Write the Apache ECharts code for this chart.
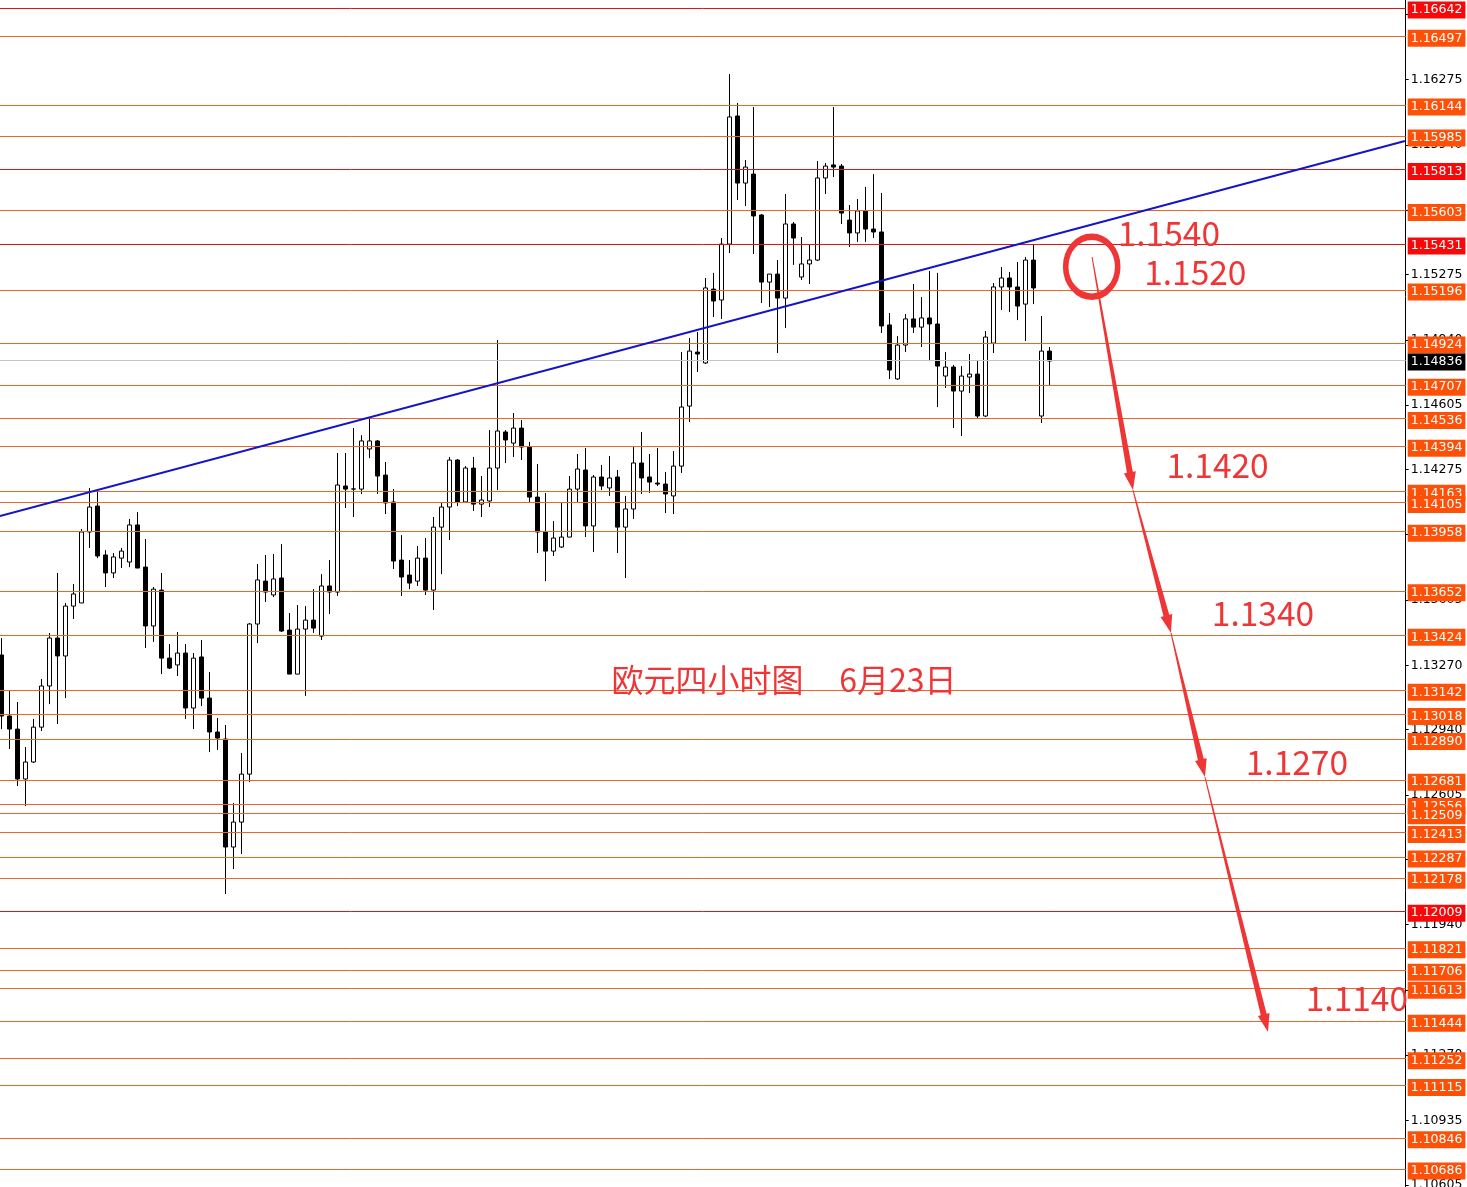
<!DOCTYPE html>
<html><head><meta charset="utf-8">
<script src="https://cdn.jsdelivr.net/npm/echarts@6/dist/echarts.min.js"></script>
<style>html,body{margin:0;padding:0;background:#fff;overflow:hidden;}#c{width:1467px;height:1187px;}</style>
</head><body><div id="c"></div>
<script>
// ---- data ----
// candles: [open, close, low, high]  (EURUSD H4)
const candles = [
[1.13323,1.13010,1.12943,1.13410],[1.13010,1.12943,1.12841,1.13138],[1.12943,1.12687,1.12651,1.13082],[1.12687,1.12774,1.12548,1.12851],
[1.12774,1.12953,1.12769,1.12995],[1.12953,1.13164,1.12933,1.13200],[1.13164,1.13410,1.13071,1.13436],[1.13410,1.13318,1.12969,1.13744],
[1.13318,1.13574,1.13102,1.13590],[1.13574,1.13636,1.13508,1.13687],[1.13590,1.13954,1.13590,1.13969],[1.13954,1.14082,1.13872,1.14180],
[1.14087,1.13831,1.13820,1.14169],[1.13836,1.13744,1.13672,1.13861],[1.13744,1.13826,1.13718,1.13846],[1.13820,1.13856,1.13769,1.13872],
[1.13800,1.13990,1.13774,1.14021],[1.13990,1.13769,1.13769,1.14056],[1.13774,1.13472,1.13359,1.13918],[1.13472,1.13661,1.13390,1.13672],
[1.13656,1.13307,1.13225,1.13744],[1.13307,1.13256,1.13251,1.13379],[1.13272,1.13333,1.13215,1.13441],[1.13333,1.13051,1.12995,1.13379],
[1.13051,1.13307,1.12943,1.13333],[1.13313,1.13102,1.13061,1.13400],[1.13102,1.12928,1.12825,1.13236],[1.12928,1.12897,1.12836,1.13000],
[1.12892,1.12338,1.12097,1.12964],[1.12338,1.12466,1.12225,1.12564],[1.12466,1.12712,1.12302,1.12820],[1.12712,1.13482,1.12671,1.13487],
[1.13482,1.13708,1.13384,1.13790],[1.13702,1.13646,1.13595,1.13836],[1.13631,1.13713,1.13620,1.13841],[1.13718,1.13446,1.13441,1.13892],
[1.13451,1.13225,1.13225,1.13538],[1.13225,1.13456,1.13225,1.13579],[1.13456,1.13502,1.13113,1.13574],[1.13502,1.13461,1.13436,1.13661],
[1.13420,1.13677,1.13400,1.13738],[1.13677,1.13646,1.13533,1.13810],[1.13646,1.14195,1.13626,1.14359],[1.14190,1.14174,1.14077,1.14359],
[1.14174,1.14175,1.14031,1.14487],[1.14174,1.14421,1.14149,1.14451],[1.14380,1.14421,1.14333,1.14544],[1.14421,1.14241,1.14149,1.14426],
[1.14246,1.14103,1.14046,1.14313],[1.14108,1.13805,1.13764,1.14174],[1.13810,1.13723,1.13626,1.13938],[1.13733,1.13692,1.13661,1.13810],
[1.13702,1.13820,1.13677,1.13882],[1.13820,1.13656,1.13631,1.13923],[1.13656,1.13979,1.13554,1.14031],[1.13979,1.14082,1.13738,1.14103],
[1.14082,1.14323,1.13913,1.14339],[1.14323,1.14108,1.14087,1.14328],[1.14108,1.14282,1.14103,1.14292],[1.14282,1.14097,1.14062,1.14339],
[1.14097,1.14118,1.14031,1.14241],[1.14113,1.14282,1.14082,1.14477],[1.14282,1.14472,1.14169,1.14939],[1.14467,1.14426,1.14308,1.14477],
[1.14410,1.14487,1.14339,1.14564],[1.14487,1.14390,1.14323,1.14528],[1.14390,1.14133,1.14103,1.14416],[1.14133,1.13954,1.13846,1.14303],
[1.13954,1.13856,1.13702,1.14154],[1.13856,1.13923,1.13831,1.14010],[1.13877,1.13928,1.13872,1.14103],[1.13928,1.14174,1.13928,1.14241],
[1.14174,1.14277,1.14108,1.14354],[1.14272,1.13985,1.13928,1.14385],[1.13985,1.14236,1.13851,1.14246],[1.14236,1.14190,1.14169,1.14298],
[1.14180,1.14231,1.14139,1.14344],[1.14236,1.13979,1.13846,1.14272],[1.13979,1.14072,1.13718,1.14139],[1.14072,1.14308,1.14021,1.14395],
[1.14308,1.14231,1.14149,1.14467],[1.14236,1.14210,1.14154,1.14354],[1.14205,1.14200,1.14190,1.14385],[1.14200,1.14149,1.14051,1.14262],
[1.14139,1.14292,1.14046,1.14369],[1.14292,1.14595,1.14257,1.14877],[1.14600,1.14882,1.14518,1.14949],[1.14877,1.14867,1.14775,1.14980],
[1.14821,1.15206,1.14816,1.15257],[1.15200,1.15139,1.15057,1.15283],[1.15144,1.15431,1.15047,1.15462],[1.15431,1.16083,1.15385,1.16303],
[1.16088,1.15744,1.15657,1.16155],[1.15744,1.15826,1.15626,1.15862],[1.15790,1.15575,1.15380,1.16134],[1.15580,1.15236,1.15129,1.15585],
[1.15236,1.15277,1.15108,1.15277],[1.15277,1.15154,1.14872,1.15349],[1.15154,1.15534,1.15000,1.15688],[1.15534,1.15462,1.15324,1.15544],
[1.15262,1.15329,1.15247,1.15467],[1.15329,1.15349,1.15226,1.15431],[1.15349,1.15770,1.15344,1.15857],[1.15770,1.15831,1.15688,1.15847],
[1.15837,1.15826,1.15775,1.16134],[1.15831,1.15590,1.15534,1.15842],[1.15554,1.15488,1.15416,1.15631],[1.15488,1.15601,1.15442,1.15662],
[1.15601,1.15508,1.15442,1.15724],[1.15508,1.15493,1.15462,1.15790],[1.15493,1.15011,1.14975,1.15693],[1.15016,1.14785,1.14739,1.15077],
[1.14739,1.14913,1.14734,1.14959],[1.14913,1.15047,1.14877,1.15072],[1.15047,1.15005,1.14975,1.15226],[1.15005,1.15052,1.14903,1.15159],
[1.15052,1.15021,1.14831,1.15293],[1.15021,1.14805,1.14595,1.15283],[1.14754,1.14800,1.14693,1.14877],[1.14800,1.14677,1.14487,1.14811],
[1.14677,1.14754,1.14446,1.14805],[1.14749,1.14764,1.14667,1.14867],[1.14764,1.14549,1.14534,1.14836],[1.14549,1.14954,1.14544,1.14985],
[1.14923,1.15211,1.14872,1.15231],[1.15211,1.15257,1.15093,1.15313],[1.15257,1.15211,1.15082,1.15288],[1.15211,1.15113,1.15041,1.15339],
[1.15123,1.15349,1.14934,1.15365],[1.15349,1.15206,1.15123,1.15426],[1.14549,1.14882,1.14513,1.15062],[1.14882,1.14831,1.14708,1.14903]
];
const slotCount = 176; // bars + empty future space
const barLabels = Array.from({length: slotCount}, (_, i) => String(i + 1));

const orangeLevels = [1.16497,1.16144,1.15985,1.15603,1.15196,1.14924,1.14707,1.14536,1.14394,1.14163,1.14105,1.13958,
  1.13652,1.13424,1.13142,1.13018,1.12890,1.12681,1.12556,1.12509,1.12413,1.12287,1.12178,1.11821,1.11706,1.11613,
  1.11444,1.11252,1.11115,1.10846,1.10686];
const redLevels = [1.16642,1.15813,1.15431,1.12009];
const currentPrice = 1.14836;
const tickLabels = [1.16610,1.16275,1.15940,1.15605,1.15275,1.14940,1.14605,1.14275,1.13940,1.13605,1.13270,
  1.12940,1.12605,1.12275,1.11940,1.11605,1.11270,1.10935,1.10605];
const priceMin = 1.10594, priceMax = 1.16683;

// annotations in [bar index, price]
const trendline = [[-0.21, 1.14036], [175.4, 1.15960]];
const circleMark = [[136.25, 1.15315]];
const arrowPath = [[136.29, 1.15365], [141.41, 1.14169], [146.16, 1.13436], [150.41, 1.12697], [158.29, 1.11389]];
const noteTexts = ['1.1540', '1.1520', '1.1420', '1.1340', '1.1270', '1.1140', '欧元四小时图     6月23日'];
const notePos = [[145.9, 1.15488], [149.2, 1.15288], [151.98, 1.14298], [157.66, 1.13538], [161.9, 1.12774], [169.4, 1.11563], [97.79, 1.13195]];

// ---- chart ----
const ORANGE_LINE = '#E8662A', ORANGE_BG = '#FF5008', RED_LINE = '#D81818', RED_BG = '#F80808';
const NOTE_RED = '#EE3636';
const chart = echarts.init(document.getElementById('c'), null, {renderer: 'canvas'});
const levelData = [
  ...orangeLevels.map(v => ({yAxis: v, lineStyle: {color: ORANGE_LINE}, label: {backgroundColor: ORANGE_BG}})),
  ...redLevels.map(v => ({yAxis: v, lineStyle: {color: RED_LINE}, label: {backgroundColor: RED_BG}})),
  {yAxis: currentPrice, lineStyle: {color: '#C4C4C4'}, label: {backgroundColor: '#000000'}}
];
const arrowSegs = arrowPath.slice(1).map((p, i) => [arrowPath[i][0], arrowPath[i][1], p[0], p[1]]);

chart.setOption({
  animation: false,
  backgroundColor: '#ffffff',
  grid: {left: -2.3, width: 1408, top: 0, bottom: 0, containLabel: false, outerBoundsMode: 'none'},
  xAxis: [
    {type: 'category', data: barLabels, boundaryGap: true, show: false},
    {type: 'value', min: -0.5, max: slotCount - 0.5, show: false}
  ],
  yAxis: {
    type: 'value', position: 'right', min: priceMin, max: priceMax,
    axisLine: {show: true, onZero: false, lineStyle: {color: '#000', width: 1}},
    axisTick: {show: true, length: 3, lineStyle: {color: '#000'}, customValues: tickLabels},
    axisLabel: {show: true, customValues: tickLabels, formatter: v => v.toFixed(5), color: '#000',
      fontFamily: 'DejaVu Sans', fontSize: 12.5, margin: 5},
    splitLine: {show: false}
  },
  series: [
    {
      type: 'candlestick', xAxisIndex: 0, data: candles, barWidth: 5,
      itemStyle: {color: '#ffffff', color0: '#000000', borderColor: '#000000', borderColor0: '#000000', borderWidth: 1},
      markLine: {
        symbol: ['none', 'none'], silent: true, animation: false, precision: 5,
        lineStyle: {type: 'solid', width: 1},
        label: {show: true, position: 'end', distance: 2, offset: [0, 2], formatter: p => Number(p.value).toFixed(5),
          color: '#ffffff', fontFamily: 'DejaVu Sans', fontSize: 12.5, padding: [3, 3, 1, 3]},
        emphasis: {disabled: true},
        data: levelData
      }
    },
    {
      type: 'line', xAxisIndex: 1, data: trendline, symbol: 'none', silent: true,
      lineStyle: {color: '#1414C8', width: 2}, z: 5
    },
    {
      type: 'custom', xAxisIndex: 1, data: arrowSegs, silent: true, z: 6,
      renderItem: (params, api) => {
        const p1 = api.coord([api.value(0), api.value(1)]);
        const p2 = api.coord([api.value(2), api.value(3)]);
        const dx = p2[0] - p1[0], dy = p2[1] - p1[1];
        const len = Math.hypot(dx, dy), ux = dx / len, uy = dy / len, nx = -uy, ny = ux;
        const headLen = 18, headW = 6, w0 = 0.5, w1 = 3;
        const bx = p2[0] - ux * headLen, by = p2[1] - uy * headLen;
        return {type: 'polygon', shape: {points: [
          [p1[0] + nx * w0, p1[1] + ny * w0], [bx + nx * w1, by + ny * w1], [bx + nx * headW, by + ny * headW],
          [p2[0], p2[1]], [bx - nx * headW, by - ny * headW], [bx - nx * w1, by - ny * w1], [p1[0] - nx * w0, p1[1] - ny * w0]
        ]}, style: {fill: NOTE_RED}};
      }
    },
    {
      type: 'scatter', xAxisIndex: 1, data: circleMark, symbol: 'circle', symbolSize: [52, 60], silent: true, z: 6,
      itemStyle: {color: 'rgba(0,0,0,0)', borderColor: NOTE_RED, borderWidth: 6, opacity: 1}
    },
    {
      type: 'custom', xAxisIndex: 1, data: notePos, silent: true, z: 7,
      renderItem: (params, api) => {
        const p = api.coord([api.value(0), api.value(1)]);
        const isTitle = params.dataIndex === noteTexts.length - 1;
        return {type: 'text', x: p[0], y: p[1], style: {text: noteTexts[params.dataIndex], fill: NOTE_RED,
          font: (isTitle ? '32px' : '33.5px') + ' "Noto Sans CJK SC", "Noto Sans", sans-serif', align: 'center', verticalAlign: 'middle'}};
      }
    }
  ]
});
</script></body></html>
